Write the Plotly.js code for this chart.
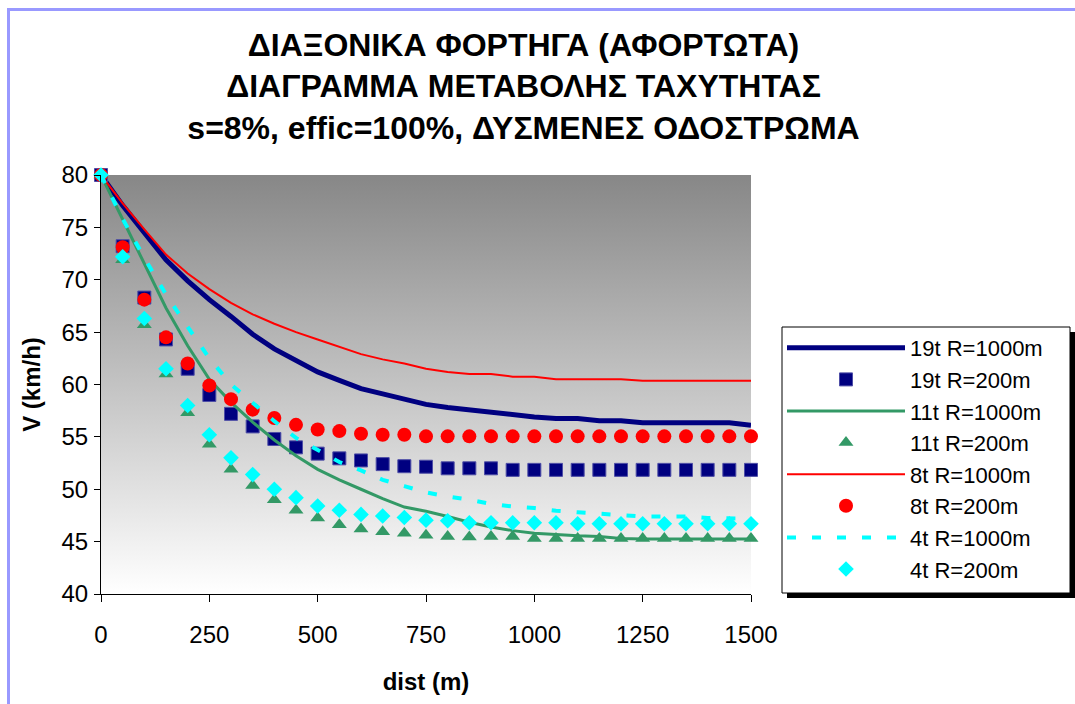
<!DOCTYPE html>
<html>
<head>
<meta charset="utf-8">
<script src="https://cdn.plot.ly/plotly-3.0.1.min.js"></script>
<style>
  html, body { margin: 0; padding: 0; background: #ffffff; overflow: hidden; }
  #chart { position: absolute; left: 0; top: 0; width: 1075px; height: 704px; }
  #frame { position: absolute; left: 7px; top: 8px; width: 1300px; height: 900px;
           border-left: 3px solid #9999ff; border-top: 3px solid #9999ff; pointer-events: none; }
</style>
</head>
<body>
<div id="chart"></div>
<div id="frame"></div>
<script>
// Distance along the grade (m)
const dist = [0, 50, 100, 150, 200, 250, 300, 350, 400, 450, 500, 550, 600, 650, 700, 750,
              800, 850, 900, 950, 1000, 1050, 1100, 1150, 1200, 1250, 1300, 1350, 1400, 1450, 1500];

// Speed (km/h) for each truck / curve radius case
const v19t1000 = [80, 77.1, 74.5, 71.9, 69.9, 68.1, 66.5, 64.8, 63.4, 62.3, 61.2, 60.4, 59.6, 59.1, 58.6, 58.1,
                  57.8, 57.55, 57.35, 57.15, 56.9, 56.75, 56.75, 56.55, 56.55, 56.35, 56.35, 56.35, 56.35, 56.35, 56.1];
const v19t200  = [80, 73.2, 68.3, 64.3, 61.5, 59.0, 57.2, 56.0, 54.8, 54.0, 53.4, 52.95, 52.75, 52.4, 52.2, 52.15,
                  52.0, 52.0, 52.0, 51.85, 51.85, 51.85, 51.85, 51.85, 51.85, 51.85, 51.85, 51.85, 51.85, 51.85, 51.85];
const v11t1000 = [80, 75.8, 71.6, 67.3, 63.7, 60.5, 58.3, 56.4, 54.7, 53.2, 51.9, 50.9, 50.0, 49.1, 48.3, 47.9,
                  47.4, 46.85, 46.4, 46.05, 45.8, 45.65, 45.55, 45.5, 45.3, 45.25, 45.25, 45.25, 45.25, 45.25, 45.25];
const v11t200  = [80, 71.9, 65.7, 61.0, 57.3, 54.3, 51.9, 50.35, 49.0, 48.0, 47.25, 46.6, 46.2, 45.95, 45.8, 45.6,
                  45.5, 45.45, 45.5, 45.5, 45.3, 45.3, 45.3, 45.3, 45.3, 45.3, 45.3, 45.3, 45.3, 45.3, 45.3];
const v8t1000  = [80, 77.3, 74.8, 72.4, 70.6, 69.1, 67.8, 66.7, 65.8, 65.0, 64.3, 63.6, 62.9, 62.4, 62.0, 61.5,
                  61.2, 61.0, 61.0, 60.75, 60.75, 60.5, 60.5, 60.5, 60.5, 60.35, 60.35, 60.35, 60.35, 60.35, 60.35];
const v8t200   = [80, 73.1, 68.1, 64.5, 62.0, 59.9, 58.6, 57.6, 56.8, 56.15, 55.7, 55.55, 55.3, 55.2, 55.2, 55.05,
                  55.05, 55.05, 55.05, 55.05, 55.05, 55.05, 55.05, 55.05, 55.05, 55.05, 55.05, 55.05, 55.05, 55.05, 55.05];
const v4t1000  = [80, 75.8, 72.1, 68.6, 65.5, 62.5, 60.0, 58.2, 56.5, 54.9, 53.7, 52.6, 51.8, 50.9, 50.3, 49.7,
                  49.3, 49.0, 48.6, 48.35, 48.2, 47.95, 47.8, 47.65, 47.55, 47.4, 47.4, 47.4, 47.25, 47.25, 47.2];
const v4t200   = [80, 72.2, 66.3, 61.5, 58.0, 55.2, 53.0, 51.4, 50.0, 49.2, 48.4, 48.0, 47.6, 47.45, 47.3, 47.05,
                  47.0, 46.8, 46.8, 46.8, 46.8, 46.8, 46.7, 46.7, 46.7, 46.7, 46.7, 46.7, 46.7, 46.7, 46.7];

const seriesNames = ['19t R=1000m', '19t R=200m', '11t R=1000m', '11t R=200m',
                     '8t R=1000m', '8t R=200m', '4t R=1000m', '4t R=200m'];

const titleLines = ['ΔΙΑΞΟΝΙΚΑ ΦΟΡΤΗΓΑ (ΑΦΟΡΤΩΤΑ)',
                    'ΔΙΑΓΡΑΜΜΑ ΜΕΤΑΒΟΛΗΣ ΤΑΧΥΤΗΤΑΣ',
                    's=8%, effic=100%, ΔΥΣΜΕΝΕΣ ΟΔΟΣΤΡΩΜΑ'];
const xTitle = 'dist (m)';
const yTitle = 'V (km/h)';

const FONT = 'Liberation Sans, Arial, Helvetica, sans-serif';

function lineTrace(i, y, color, width, dash) {
  return { x: dist, y: y, name: seriesNames[i], type: 'scatter', mode: 'lines', cliponaxis: false,
           line: { color: color, width: width, dash: dash || 'solid', shape: 'linear' } };
}
function markerTrace(i, y, symbol, size, color, edge) {
  return { x: dist, y: y, name: seriesNames[i], type: 'scatter', mode: 'markers', cliponaxis: false,
           marker: { symbol: symbol, size: size, color: color,
                     line: { color: edge || color, width: edge ? 1 : 0 } } };
}

const traces = [
  lineTrace(0, v19t1000, '#000080', 5),
  markerTrace(1, v19t200, 'square', 13, '#000080', '#4d4da6'),
  lineTrace(2, v11t1000, '#339966', 3),
  markerTrace(3, v11t200, 'triangle-up', 13, '#339966'),
  lineTrace(4, v8t1000, '#ff0000', 2),
  markerTrace(5, v8t200, 'circle', 14, '#ff0000'),
  lineTrace(6, v4t1000, '#00ffff', 4, '9px,16px'),
  markerTrace(7, v4t200, 'diamond', 12, '#00ffff')
];

// vertical grey-to-white fill behind the plotting area
const bgSvg = "<svg xmlns='http://www.w3.org/2000/svg' width='100' height='100' viewBox='0 0 100 100' preserveAspectRatio='none'>" +
  "<defs><linearGradient id='g' x1='0' y1='0' x2='0' y2='1'>" +
  "<stop offset='0' stop-color='#878787'/><stop offset='1' stop-color='#ffffff'/></linearGradient></defs>" +
  "<rect width='100' height='100' fill='url(#g)'/></svg>";

// plot-area geometry in pixels (used to place the legend frame in paper units)
const PL = 101, PT = 175, PW = 650, PH = 419;
const px = v => (v - PL) / PW;
const py = v => (PT + PH - v) / PH;
const legBox = { left: 782, right: 1070, top: 327, bottom: 593 };
const SHADOW = 5;

const layout = {
  width: 1075, height: 704,
  margin: { l: PL, r: 1075 - PL - PW, t: PT, b: 704 - PT - PH, pad: 0 },
  paper_bgcolor: 'rgba(0,0,0,0)',
  plot_bgcolor: 'rgba(0,0,0,0)',
  font: { family: FONT, color: '#000000', size: 22 },
  title: { text: titleLines.join('<br>'), font: { family: FONT, size: 32, color: '#000000', weight: 'bold' },
           x: 0.487, xanchor: 'center', xref: 'container', y: 0.921, yanchor: 'top', yref: 'container' },
  xaxis: {
    range: [0, 1500], dtick: 250, tick0: 0, showgrid: false, zeroline: false,
    showline: true, linecolor: '#000000', linewidth: 1,
    ticks: 'outside', ticklen: 7, tickcolor: '#000000', tickwidth: 1,
    tickfont: { family: FONT, size: 24 }, ticklabelstandoff: 12,
    title: { text: xTitle, font: { family: FONT, size: 24, weight: 'bold' }, standoff: 26 },
    automargin: false
  },
  yaxis: {
    range: [40, 80], dtick: 5, tick0: 40, showgrid: false, zeroline: false,
    showline: true, linecolor: '#000000', linewidth: 1,
    ticks: 'outside', ticklen: 6, tickcolor: '#000000', tickwidth: 1,
    tickfont: { family: FONT, size: 24 }, ticklabelstandoff: 1,
    title: { text: yTitle, font: { family: FONT, size: 24, weight: 'bold' }, standoff: 14 },
    automargin: false
  },
  legend: {
    x: px(legBox.left), y: py(legBox.top), xanchor: 'left', yanchor: 'top',
    xref: 'paper', yref: 'paper',
    bgcolor: 'rgba(0,0,0,0)', borderwidth: 0,
    font: { family: FONT, size: 22, color: '#000000' },
    itemwidth: 118, traceorder: 'normal'
  },
  shapes: [
    { type: 'rect', xref: 'paper', yref: 'paper', layer: 'below',
      x0: px(legBox.left + SHADOW), x1: px(legBox.right + SHADOW),
      y0: py(legBox.bottom + SHADOW), y1: py(legBox.top + SHADOW),
      fillcolor: '#000000', line: { width: 0 } },
    { type: 'rect', xref: 'paper', yref: 'paper', layer: 'below',
      x0: px(legBox.left), x1: px(legBox.right), y0: py(legBox.bottom), y1: py(legBox.top),
      fillcolor: '#ffffff', line: { color: '#000000', width: 1 } }
  ],
  images: [{
    source: 'data:image/svg+xml;charset=utf-8,' + encodeURIComponent(bgSvg),
    xref: 'paper', yref: 'paper', x: 0, y: 1, sizex: 1, sizey: 1,
    sizing: 'stretch', layer: 'below', xanchor: 'left', yanchor: 'top'
  }],
  showlegend: true
};

Plotly.newPlot(document.getElementById('chart'), traces, layout, { displayModeBar: false, staticPlot: true });
</script>
</body>
</html>
